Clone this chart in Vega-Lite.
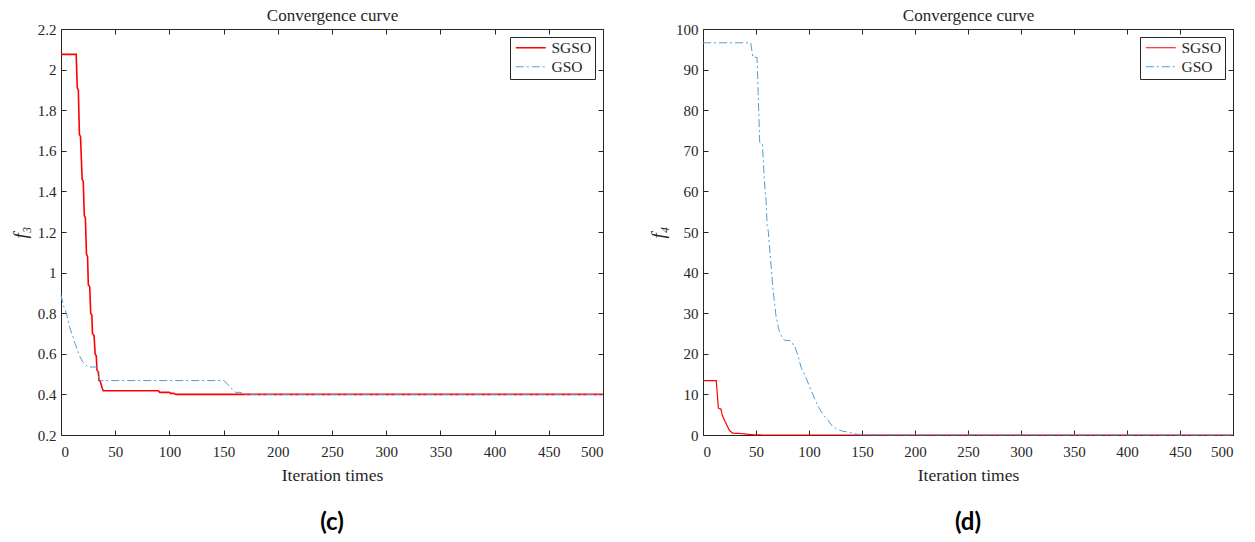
{
  "$schema": "https://vega.github.io/schema/vega-lite/v6.json",
  "background": "white",
  "padding": {"left": 11, "top": 6, "right": 10, "bottom": 5},
  "config": {
    "font": "Liberation Serif",
    "view": {"stroke": null},
    "axis": {
      "domainColor": "#262626", "tickColor": "#262626", "labelColor": "#262626", "titleColor": "#262626",
      "labelFont": "Liberation Serif", "labelFontSize": 15,
      "titleFont": "Liberation Serif", "titleFontSize": 17.5, "titleFontWeight": "normal",
      "grid": false, "tickSize": -5, "labelPadding": 10, "domainWidth": 1, "tickWidth": 1
    },
    "legend": {
      "orient": "top-right", "offset": 8, "strokeColor": "#262626", "fillColor": "white",
      "padding": 3, "labelFont": "Liberation Serif", "labelFontSize": 15.5, "labelColor": "#262626",
      "symbolType": "M-1,0H5", "symbolSize": 100, "symbolStrokeWidth": 1.5, "rowPadding": 2, "labelOffset": 23
    },
    "title": {"font": "Lato", "fontSize": 24, "fontWeight": "bold", "color": "black"}
  },
  "datasets": {
    "c": [
      {"series": "SGSO", "iter": 0, "value": 2.075},
      {"series": "SGSO", "iter": 14, "value": 2.075},
      {"series": "SGSO", "iter": 15, "value": 1.91},
      {"series": "SGSO", "iter": 16, "value": 1.9},
      {"series": "SGSO", "iter": 17, "value": 1.68},
      {"series": "SGSO", "iter": 18, "value": 1.67},
      {"series": "SGSO", "iter": 19.5, "value": 1.46},
      {"series": "SGSO", "iter": 20.5, "value": 1.45},
      {"series": "SGSO", "iter": 21.5, "value": 1.28},
      {"series": "SGSO", "iter": 22.5, "value": 1.27},
      {"series": "SGSO", "iter": 23.5, "value": 1.09},
      {"series": "SGSO", "iter": 24.5, "value": 1.08},
      {"series": "SGSO", "iter": 25.2, "value": 0.94},
      {"series": "SGSO", "iter": 26.5, "value": 0.93},
      {"series": "SGSO", "iter": 27.4, "value": 0.8},
      {"series": "SGSO", "iter": 28.5, "value": 0.79},
      {"series": "SGSO", "iter": 29, "value": 0.7},
      {"series": "SGSO", "iter": 30.5, "value": 0.69},
      {"series": "SGSO", "iter": 31.5, "value": 0.6},
      {"series": "SGSO", "iter": 32.5, "value": 0.59},
      {"series": "SGSO", "iter": 33.2, "value": 0.52},
      {"series": "SGSO", "iter": 34.5, "value": 0.51},
      {"series": "SGSO", "iter": 35, "value": 0.47},
      {"series": "SGSO", "iter": 36.5, "value": 0.46},
      {"series": "SGSO", "iter": 38, "value": 0.43},
      {"series": "SGSO", "iter": 39, "value": 0.418},
      {"series": "SGSO", "iter": 90, "value": 0.418},
      {"series": "SGSO", "iter": 91, "value": 0.41},
      {"series": "SGSO", "iter": 100, "value": 0.41},
      {"series": "SGSO", "iter": 101, "value": 0.405},
      {"series": "SGSO", "iter": 104, "value": 0.405},
      {"series": "SGSO", "iter": 106, "value": 0.4},
      {"series": "SGSO", "iter": 500, "value": 0.4},
      {"series": "GSO", "iter": 0, "value": 0.89},
      {"series": "GSO", "iter": 2, "value": 0.84},
      {"series": "GSO", "iter": 5, "value": 0.8},
      {"series": "GSO", "iter": 8, "value": 0.73},
      {"series": "GSO", "iter": 10, "value": 0.7},
      {"series": "GSO", "iter": 13, "value": 0.65},
      {"series": "GSO", "iter": 17, "value": 0.59},
      {"series": "GSO", "iter": 20, "value": 0.56},
      {"series": "GSO", "iter": 23, "value": 0.545},
      {"series": "GSO", "iter": 25, "value": 0.535},
      {"series": "GSO", "iter": 33, "value": 0.535},
      {"series": "GSO", "iter": 35, "value": 0.48},
      {"series": "GSO", "iter": 36, "value": 0.468},
      {"series": "GSO", "iter": 150, "value": 0.468},
      {"series": "GSO", "iter": 153, "value": 0.455},
      {"series": "GSO", "iter": 156, "value": 0.435},
      {"series": "GSO", "iter": 158, "value": 0.425},
      {"series": "GSO", "iter": 161, "value": 0.41},
      {"series": "GSO", "iter": 165, "value": 0.41},
      {"series": "GSO", "iter": 168, "value": 0.405},
      {"series": "GSO", "iter": 171, "value": 0.4},
      {"series": "GSO", "iter": 500, "value": 0.4}
    ],
    "d": [
      {"series": "SGSO", "iter": 0, "value": 13.4},
      {"series": "SGSO", "iter": 12.5, "value": 13.4},
      {"series": "SGSO", "iter": 14.5, "value": 6.6},
      {"series": "SGSO", "iter": 17, "value": 6.4},
      {"series": "SGSO", "iter": 18, "value": 5},
      {"series": "SGSO", "iter": 19.6, "value": 4},
      {"series": "SGSO", "iter": 22, "value": 2.7},
      {"series": "SGSO", "iter": 25, "value": 1.1},
      {"series": "SGSO", "iter": 28, "value": 0.45},
      {"series": "SGSO", "iter": 36, "value": 0.35},
      {"series": "SGSO", "iter": 45, "value": 0.1},
      {"series": "SGSO", "iter": 49, "value": 0.05},
      {"series": "SGSO", "iter": 55, "value": 0},
      {"series": "SGSO", "iter": 500, "value": 0},
      {"series": "GSO", "iter": 0, "value": 96.6},
      {"series": "GSO", "iter": 45, "value": 96.6},
      {"series": "GSO", "iter": 47, "value": 93.1},
      {"series": "GSO", "iter": 51, "value": 93},
      {"series": "GSO", "iter": 52, "value": 84.4},
      {"series": "GSO", "iter": 53.5, "value": 72.1},
      {"series": "GSO", "iter": 56, "value": 71.8},
      {"series": "GSO", "iter": 58, "value": 62.3},
      {"series": "GSO", "iter": 59.5, "value": 57.8},
      {"series": "GSO", "iter": 60.5, "value": 51.6},
      {"series": "GSO", "iter": 61.5, "value": 50.4},
      {"series": "GSO", "iter": 66, "value": 36},
      {"series": "GSO", "iter": 69, "value": 29},
      {"series": "GSO", "iter": 72, "value": 25.5},
      {"series": "GSO", "iter": 74.5, "value": 24.1},
      {"series": "GSO", "iter": 77, "value": 23.3},
      {"series": "GSO", "iter": 82, "value": 23.3},
      {"series": "GSO", "iter": 83, "value": 22.6},
      {"series": "GSO", "iter": 86, "value": 22.3},
      {"series": "GSO", "iter": 89.5, "value": 19.6},
      {"series": "GSO", "iter": 92.5, "value": 16.7},
      {"series": "GSO", "iter": 97, "value": 14.2},
      {"series": "GSO", "iter": 102, "value": 11},
      {"series": "GSO", "iter": 106, "value": 8.5},
      {"series": "GSO", "iter": 110, "value": 6.4},
      {"series": "GSO", "iter": 114, "value": 4.8},
      {"series": "GSO", "iter": 118, "value": 3.6},
      {"series": "GSO", "iter": 122, "value": 2.2},
      {"series": "GSO", "iter": 126, "value": 1.5},
      {"series": "GSO", "iter": 131, "value": 1},
      {"series": "GSO", "iter": 137, "value": 0.7},
      {"series": "GSO", "iter": 143, "value": 0.3},
      {"series": "GSO", "iter": 149, "value": 0.05},
      {"series": "GSO", "iter": 500, "value": 0}
    ]
  },
  "bounds": "flush",
  "spacing": 100,
  "resolve": {
    "scale": {"color": "independent", "strokeDash": "independent", "strokeWidth": "independent"},
    "legend": {"color": "independent", "strokeDash": "independent"}
  },
  "hconcat": [
    {
      "width": 542, "height": 406,
      "data": {"name": "c"},
      "title": {"text": "(c)", "orient": "bottom", "offset": 27},
      "layer": [
        {
          "mark": {"type": "line"},
          "encoding": {
            "x": {"field": "iter", "type": "quantitative", "scale": {"domain": [0, 500], "nice": false, "zero": false},
                  "axis": {"orient": "bottom", "title": "Iteration times", "labelPadding": 14, "titlePadding": 7, "values": [0, 50, 100, 150, 200, 250, 300, 350, 400, 450, 500]}},
            "y": {"field": "value", "type": "quantitative", "scale": {"domain": [0.2, 2.2], "nice": false, "zero": false},
                  "axis": {"orient": "left", "title": "f₃", "titleFontStyle": "italic", "titleFontSize": 19, "titlePadding": 7, "format": "~g", "values": [0.2, 0.4, 0.6, 0.8, 1, 1.2, 1.4, 1.6, 1.8, 2, 2.2]}},
            "color": {"field": "series", "type": "nominal", "scale": {"domain": ["SGSO", "GSO"], "range": ["#FF0000", "#4D9FDB"]}, "legend": {"title": null}},
            "strokeDash": {"field": "series", "type": "nominal", "scale": {"domain": ["SGSO", "GSO"], "range": [[1, 0], [8, 3, 2, 3]]}, "legend": {"title": null}},
            "strokeWidth": {"field": "series", "type": "nominal", "scale": {"domain": ["SGSO", "GSO"], "range": [1.6, 1]}, "legend": null}
          }
        },
        {
          "mark": {"type": "line", "opacity": 0},
          "encoding": {
            "x": {"field": "iter", "type": "quantitative",
                  "axis": {"orient": "top", "labels": false, "title": "Convergence curve", "titleFontSize": 17, "titlePadding": 4, "values": [0, 50, 100, 150, 200, 250, 300, 350, 400, 450, 500]}},
            "y": {"field": "value", "type": "quantitative",
                  "axis": {"orient": "right", "labels": false, "title": null, "values": [0.2, 0.4, 0.6, 0.8, 1, 1.2, 1.4, 1.6, 1.8, 2, 2.2]}},
            "detail": {"field": "series"}
          }
        }
      ],
      "resolve": {"axis": {"x": "independent", "y": "independent"}}
    },
    {
      "width": 530, "height": 406,
      "data": {"name": "d"},
      "title": {"text": "(d)", "orient": "bottom", "offset": 27},
      "layer": [
        {
          "mark": {"type": "line"},
          "encoding": {
            "x": {"field": "iter", "type": "quantitative", "scale": {"domain": [0, 500], "nice": false, "zero": false},
                  "axis": {"orient": "bottom", "title": "Iteration times", "labelPadding": 14, "titlePadding": 7, "values": [0, 50, 100, 150, 200, 250, 300, 350, 400, 450, 500]}},
            "y": {"field": "value", "type": "quantitative", "scale": {"domain": [0, 100], "nice": false, "zero": false},
                  "axis": {"orient": "left", "title": "f₄", "titleFontStyle": "italic", "titleFontSize": 19, "titlePadding": 7, "values": [0, 10, 20, 30, 40, 50, 60, 70, 80, 90, 100]}},
            "color": {"field": "series", "type": "nominal", "scale": {"domain": ["SGSO", "GSO"], "range": ["#FF0000", "#4D9FDB"]}, "legend": {"title": null}},
            "strokeDash": {"field": "series", "type": "nominal", "scale": {"domain": ["SGSO", "GSO"], "range": [[1, 0], [8, 3, 2, 3]]}, "legend": {"title": null}},
            "strokeWidth": {"field": "series", "type": "nominal", "scale": {"domain": ["SGSO", "GSO"], "range": [1.2, 1]}, "legend": null}
          }
        },
        {
          "mark": {"type": "line", "opacity": 0},
          "encoding": {
            "x": {"field": "iter", "type": "quantitative",
                  "axis": {"orient": "top", "labels": false, "title": "Convergence curve", "titleFontSize": 17, "titlePadding": 4, "values": [0, 50, 100, 150, 200, 250, 300, 350, 400, 450, 500]}},
            "y": {"field": "value", "type": "quantitative",
                  "axis": {"orient": "right", "labels": false, "title": null, "values": [0, 10, 20, 30, 40, 50, 60, 70, 80, 90, 100]}},
            "detail": {"field": "series"}
          }
        }
      ],
      "resolve": {"axis": {"x": "independent", "y": "independent"}}
    }
  ]
}
